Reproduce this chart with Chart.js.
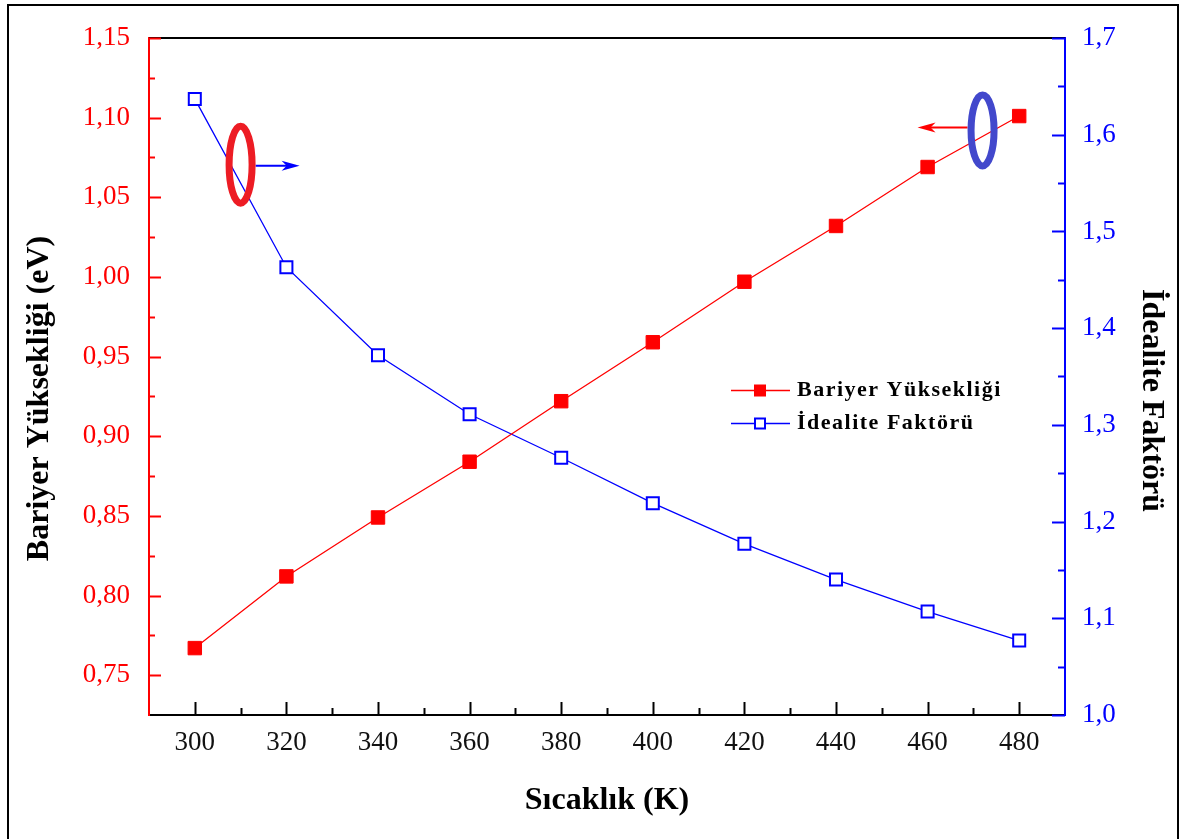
<!DOCTYPE html>
<html>
<head>
<meta charset="utf-8">
<title>Bariyer Yüksekliği ve İdealite Faktörü</title>
<script src="https://cdn.jsdelivr.net/npm/chart.js"></script>
<style>
  html, body { margin: 0; padding: 0; background: #fff; overflow: hidden; }
  #wrap { position: relative; width: 1180px; height: 839px; }
  #frame { position: absolute; left: 7px; top: 4px; width: 1172px; height: 900px;
           border: 2px solid #000; box-sizing: border-box; pointer-events: none; }
  canvas { position: absolute; left: 0; top: 0; }
</style>
</head>
<body>
<div id="wrap">
  <canvas id="chart" width="1180" height="839"></canvas>
  <div id="frame"></div>
</div>
<script>
// temperatures (K)
const temps = [300, 320, 340, 360, 380, 400, 420, 440, 460, 480];
// barrier height (eV), left axis
const barrier = [0.767, 0.812, 0.849, 0.884, 0.922, 0.959, 0.997, 1.032, 1.069, 1.101];
// ideality factor, right axis
const ideality = [1.637, 1.463, 1.372, 1.311, 1.266, 1.219, 1.177, 1.140, 1.107, 1.077];

const xTicks = [300, 320, 340, 360, 380, 400, 420, 440, 460, 480];
const leftTicks = [0.75, 0.80, 0.85, 0.90, 0.95, 1.00, 1.05, 1.10, 1.15];
const rightTicks = [1.0, 1.1, 1.2, 1.3, 1.4, 1.5, 1.6, 1.7];

const RED = '#ff0000';
const BLUE = '#0000ff';
const SERIF = '"Liberation Serif", "Times New Roman", serif';

const comma = (v, d) => v.toFixed(d).replace('.', ',');

function seg(ctx, x1, y1, x2, y2) {
  ctx.beginPath();
  ctx.moveTo(x1, y1);
  ctx.lineTo(x2, y2);
  ctx.stroke();
}

// tick marks drawn on the inner side of each axis, with minor ticks halfway
const innerTicks = {
  id: 'innerTicks',
  afterDraw(chart) {
    const { ctx, chartArea: a, scales } = chart;
    ctx.save();
    ctx.lineWidth = 2;

    // top frame line
    ctx.strokeStyle = '#000';
    seg(ctx, a.left, a.top, a.right, a.top);

    // bottom axis
    xTicks.forEach((v, i) => {
      const px = Math.round(scales.x.getPixelForValue(v)) + 0.5;
      seg(ctx, px, a.bottom, px, a.bottom - 13);
      if (i < xTicks.length - 1) {
        const m = Math.round(scales.x.getPixelForValue((v + xTicks[i + 1]) / 2)) + 0.5;
        seg(ctx, m, a.bottom, m, a.bottom - 7);
      }
    });

    // left axis
    ctx.strokeStyle = RED;
    leftTicks.forEach((v, i) => {
      const py = Math.round(scales.y.getPixelForValue(v)) + 0.5;
      seg(ctx, a.left, py, a.left + 12, py);
      if (i < leftTicks.length - 1) {
        const m = Math.round(scales.y.getPixelForValue((v + leftTicks[i + 1]) / 2)) + 0.5;
        seg(ctx, a.left, m, a.left + 6, m);
      }
    });

    // right axis
    ctx.strokeStyle = BLUE;
    rightTicks.forEach((v, i) => {
      const py = Math.round(scales.y1.getPixelForValue(v)) + 0.5;
      seg(ctx, a.right, py, a.right - 13, py);
      if (i < rightTicks.length - 1) {
        const m = Math.round(scales.y1.getPixelForValue((v + rightTicks[i + 1]) / 2)) + 0.5;
        seg(ctx, a.right, m, a.right - 7, m);
      }
    });
    ctx.restore();
  }
};

// axis titles
const axisTitles = {
  id: 'axisTitles',
  afterDraw(chart) {
    const { ctx, chartArea: a } = chart;
    ctx.save();
    ctx.fillStyle = '#000';
    ctx.font = 'bold 32px ' + SERIF;
    ctx.textAlign = 'center';
    ctx.textBaseline = 'middle';
    ctx.fillText('Sıcaklık (K)', (a.left + a.right) / 2, a.bottom + 86);

    ctx.save();
    ctx.translate(a.left - 109, (a.top + a.bottom) / 2 + 22);
    ctx.rotate(-Math.PI / 2);
    ctx.fillText('Bariyer Yüksekliği (eV)', 0, 0);
    ctx.restore();

    ctx.save();
    ctx.translate(a.right + 86, (a.top + a.bottom) / 2 + 24);
    ctx.rotate(Math.PI / 2);
    ctx.fillText('İdealite Faktörü', 0, 0);
    ctx.restore();
    ctx.restore();
  }
};

// legend placed inside the plot
const innerLegend = {
  id: 'innerLegend',
  afterDraw(chart) {
    const { ctx } = chart;
    const x0 = 731, rows = [390, 423];
    ctx.save();
    ctx.font = 'bold 22px ' + SERIF;
    ctx.letterSpacing = '1.5px';
    ctx.textBaseline = 'middle';
    chart.data.datasets.forEach((ds, i) => {
      const y = rows[i] + 0.5;
      ctx.strokeStyle = ds.borderColor;
      ctx.lineWidth = 1.5;
      seg(ctx, x0, y, x0 + 59, y);
      ctx.lineWidth = 2;
      if (ds.pointBackgroundColor === '#ffffff') {
        ctx.fillStyle = '#fff';
        ctx.fillRect(x0 + 24, y - 5, 10, 10);
        ctx.strokeRect(x0 + 24, y - 5, 10, 10);
      } else {
        ctx.fillStyle = ds.pointBackgroundColor;
        ctx.fillRect(x0 + 23, y - 6, 12, 12);
      }
      ctx.fillStyle = '#000';
      ctx.fillText(ds.label, x0 + 66, y);
    });
    ctx.restore();
  }
};

// ellipse + arrow markers showing which curve belongs to which axis
const axisPointers = {
  id: 'axisPointers',
  afterDraw(chart) {
    const { ctx, scales } = chart;
    ctx.save();

    const arrow = (x1, x2, y, color) => {
      ctx.strokeStyle = color;
      ctx.fillStyle = color;
      ctx.lineWidth = 2;
      const dir = Math.sign(x2 - x1);
      seg(ctx, x1, y, x2 - dir * 10, y);
      ctx.beginPath();
      ctx.moveTo(x2, y);
      ctx.lineTo(x2 - dir * 18, y - 5);
      ctx.lineTo(x2 - dir * 13, y);
      ctx.lineTo(x2 - dir * 18, y + 5);
      ctx.closePath();
      ctx.fill();
    };

    // red ring around the barrier curve, arrow to the right axis
    let cx = scales.x.getPixelForValue(310);
    let cy = scales.y.getPixelForValue(1.0705);
    arrow(cx + 15, cx + 59, cy + 1, BLUE);
    ctx.strokeStyle = 'rgb(237,28,36)';
    ctx.lineWidth = 7;
    ctx.beginPath();
    ctx.ellipse(cx, cy, 11.5, 38.5, 0, 0, Math.PI * 2);
    ctx.stroke();

    // blue ring around the ideality curve, arrow to the left axis
    cx = scales.x.getPixelForValue(472);
    cy = scales.y.getPixelForValue(1.092);
    arrow(cx - 15, cx - 65, cy - 3, RED);
    ctx.strokeStyle = 'rgb(66,72,204)';
    ctx.lineWidth = 7;
    ctx.beginPath();
    ctx.ellipse(cx, cy, 11.5, 35.5, 0, 0, Math.PI * 2);
    ctx.stroke();

    ctx.restore();
  }
};

new Chart(document.getElementById('chart'), {
  type: 'line',
  data: {
    datasets: [
      {
        label: 'Bariyer Yüksekliği',
        data: temps.map((t, i) => ({ x: t, y: barrier[i] })),
        yAxisID: 'y',
        borderColor: RED,
        borderWidth: 1.3,
        pointStyle: 'rect',
        pointRadius: 9.5,
        pointBackgroundColor: RED,
        pointBorderColor: RED,
        pointBorderWidth: 1,
        tension: 0
      },
      {
        label: 'İdealite Faktörü',
        data: temps.map((t, i) => ({ x: t, y: ideality[i] })),
        yAxisID: 'y1',
        borderColor: BLUE,
        borderWidth: 1.3,
        pointStyle: 'rect',
        pointRadius: 8.5,
        pointBackgroundColor: '#ffffff',
        pointBorderColor: BLUE,
        pointBorderWidth: 2,
        tension: 0
      }
    ]
  },
  options: {
    responsive: false,
    animation: false,
    layout: { padding: { top: 38, left: 0, right: 0, bottom: 0 } },
    plugins: { legend: { display: false }, tooltip: { enabled: false } },
    scales: {
      x: {
        type: 'linear',
        position: 'bottom',
        min: 290,
        max: 490,
        afterBuildTicks: s => { s.ticks = xTicks.map(v => ({ value: v })); },
        afterFit: s => { s.height = 124; },
        grid: { drawOnChartArea: false, drawTicks: false },
        border: { display: true, color: '#000', width: 2 },
        ticks: {
          color: '#111',
          padding: 12,
          maxRotation: 0,
          font: { family: SERIF, size: 27 },
          callback: v => String(v)
        }
      },
      y: {
        type: 'linear',
        position: 'left',
        min: 0.725,
        max: 1.15,
        afterBuildTicks: s => { s.ticks = leftTicks.map(v => ({ value: v })); },
        afterFit: s => { s.width = 149; },
        grid: { drawOnChartArea: false, drawTicks: false },
        border: { display: true, color: RED, width: 2 },
        ticks: {
          color: RED,
          padding: 19,
          font: { family: SERIF, size: 27 },
          callback: v => comma(v, 2)
        }
      },
      y1: {
        type: 'linear',
        position: 'right',
        min: 1.0,
        max: 1.7,
        afterBuildTicks: s => { s.ticks = rightTicks.map(v => ({ value: v })); },
        afterFit: s => { s.width = 115; },
        grid: { drawOnChartArea: false, drawTicks: false },
        border: { display: true, color: BLUE, width: 2 },
        ticks: {
          color: BLUE,
          padding: 17,
          font: { family: SERIF, size: 27 },
          callback: v => comma(v, 1)
        }
      }
    }
  },
  plugins: [innerTicks, axisTitles, innerLegend, axisPointers]
});
</script>
</body>
</html>
